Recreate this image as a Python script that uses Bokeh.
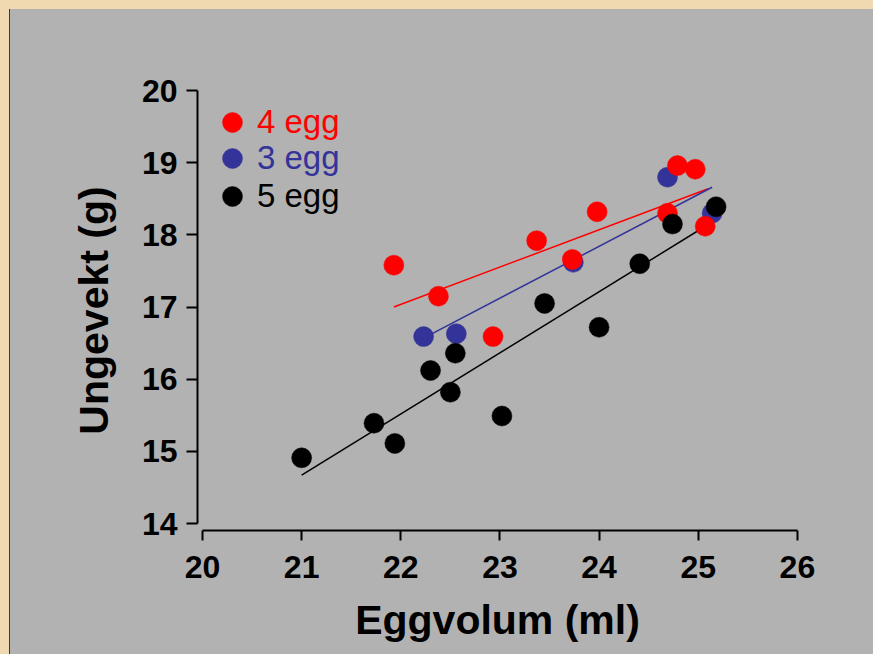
from bokeh.plotting import figure
from bokeh.models import Range1d, FixedTicker, Legend, LegendItem, Spacer
from bokeh.layouts import row, column
from bokeh.embed import file_html
from bokeh.resources import INLINE

# ---- data ----
x_ticks = [20, 21, 22, 23, 24, 25, 26]
y_ticks = [14, 15, 16, 17, 18, 19, 20]

x4 = [21.93, 22.38, 22.93, 23.37, 23.73, 23.98, 24.69, 24.79, 24.97, 25.07]
y4 = [17.58, 17.15, 16.59, 17.92, 17.66, 18.32, 18.30, 18.96, 18.91, 18.12]
fit4_x = [21.93, 25.10]
fit4_y = [17.00, 18.64]

x3 = [22.23, 22.56, 23.74, 24.69, 25.14]
y3 = [16.59, 16.63, 17.62, 18.80, 18.30]
fit3_x = [22.23, 25.14]
fit3_y = [16.57, 18.66]

x5 = [21.00, 21.73, 21.94, 22.30, 22.50, 22.55, 23.02, 23.45, 24.00, 24.41, 24.74, 25.18]
y5 = [14.91, 15.39, 15.11, 16.12, 15.82, 16.36, 15.49, 17.05, 16.72, 17.60, 18.15, 18.39]
fit5_x = [21.00, 25.19]
fit5_y = [14.67, 18.22]

labels = ["4 egg", "3 egg", "5 egg"]

# ---- styles ----
GREY = "#B2B2B2"
BEIGE = "#F0D9B0"
RED = "#FF0000"
BLUE = "#333399"
BLACK = "#000000"
FONT = "Liberation Sans"

p = figure(width=863, height=645, output_backend="svg", toolbar_location=None,
           x_range=Range1d(19.9496, 26.001), y_range=Range1d(13.903, 20.001),
           min_border_left=187, min_border_right=76, min_border_top=81,
           min_border_bottom=124,
           background_fill_color=None, border_fill_color=GREY,
           outline_line_color=None)
p.grid.visible = False

# fit lines (under points)
p.line(fit4_x, fit4_y, line_color=RED, line_width=1.5)
p.line(fit3_x, fit3_y, line_color=BLUE, line_width=1.5)
p.line(fit5_x, fit5_y, line_color=BLACK, line_width=1.5)

r3 = p.scatter(x3, y3, size=20, fill_color=BLUE, line_color=BLUE, line_width=0.5)
r4 = p.scatter(x4, y4, size=20, fill_color=RED, line_color=RED, line_width=0.5)
r5 = p.scatter(x5, y5, size=20, fill_color=BLACK, line_color=BLACK, line_width=0.5)

# axes
for ax, ticks, bnds in ((p.xaxis[0], x_ticks, (20, 26)), (p.yaxis[0], y_ticks, (14, 20))):
    ax.ticker = FixedTicker(ticks=ticks)
    ax.bounds = bnds
    ax.axis_line_width = 2
    ax.axis_line_color = BLACK
    ax.major_tick_line_width = 2
    ax.major_tick_line_color = BLACK
    ax.major_tick_in = 0
    ax.minor_tick_line_color = None
    ax.major_label_text_font = FONT
    ax.major_label_text_font_size = "32px"
    ax.major_label_text_font_style = "bold"
    ax.major_label_text_color = BLACK
    ax.axis_label_text_font = FONT
    ax.axis_label_text_font_size = "41px"
    ax.axis_label_text_font_style = "bold"
    ax.axis_label_text_color = BLACK

p.xaxis.major_tick_out = 10
p.yaxis.major_tick_out = 11
p.xaxis.major_label_standoff = 15
p.yaxis.major_label_standoff = 9
p.xaxis.axis_label = "Eggvolum (ml)"
p.yaxis.axis_label = "Ungevekt (g)"
p.xaxis.axis_label_standoff = 16
p.yaxis.axis_label_standoff = 22

# legends: one per item so each label takes its own colour
leg_specs = [(labels[0], r4, RED, 383), (labels[1], r3, BLUE, 347), (labels[2], r5, BLACK, 309)]
for lab, rend, col, yoff in leg_specs:
    lg = Legend(items=[LegendItem(label=lab, renderers=[rend])],
                location=(10, yoff), glyph_width=50, glyph_height=50,
                label_standoff=-2, padding=0, margin=0, border_line_color=None,
                background_fill_alpha=0, label_text_font=FONT,
                label_text_font_size="33px", label_text_color=col)
    p.add_layout(lg, "center")

top = Spacer(width=873, height=9, styles={"background-color": BEIGE})
left = Spacer(width=9, height=645, styles={"background-color": BEIGE})
edge = Spacer(width=1, height=645, styles={"background-color": "#3A3A3A"})
body = row(left, edge, p, width=873, height=645, styles={"background-color": GREY})
layout = column(top, body, width=873, height=654, styles={"background-color": BEIGE})

open("out.html", "w").write(file_html(layout, INLINE))
